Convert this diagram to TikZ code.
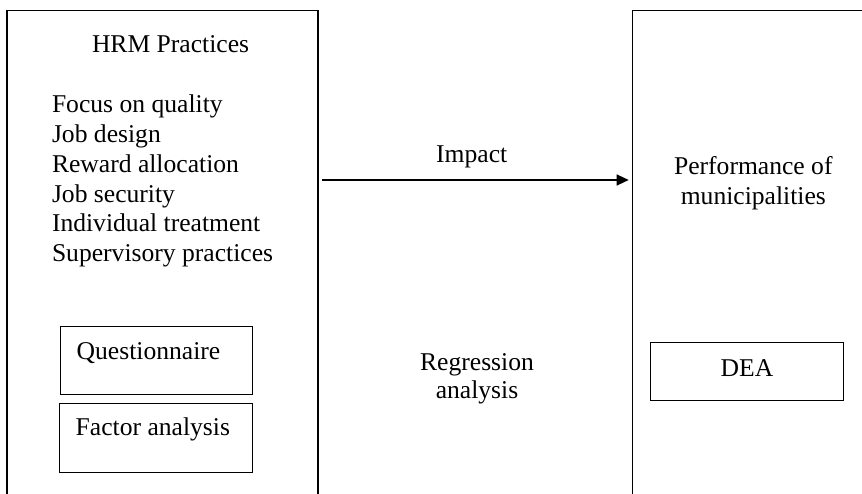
\documentclass[tikz,border=0pt]{standalone}
\usepackage{fontspec}
\setmainfont{Liberation Serif}
\usetikzlibrary{arrows.meta}
\begin{document}
\begin{tikzpicture}[x=1pt,y=-1pt,
  every node/.style={inner sep=0pt,outer sep=0pt,font=\fontsize{25.6}{29.6}\selectfont},
  frame/.style={draw,line width=1.2pt,anchor=north west},
  subbox/.style={draw,line width=1pt,anchor=north west},
  lbl/.style={anchor=base west},
  ctr/.style={anchor=base}]
\clip (0,0) rectangle (862,494);
\fill[white] (0,0) rectangle (862,494);
% main frames
\node[frame,minimum width=311pt,minimum height=510pt] (hrm) at (7,10.7) {};
\node[frame,minimum width=260pt,minimum height=510pt] (perf) at (632.7,10.7) {};
% left texts
\node[lbl] (t0) at (92,53) {HRM Practices};
\node[lbl] (t1) at (52,113) {Focus on quality};
\node[lbl] (t2) at (52,143) {Job design};
\node[lbl] (t3) at (52,173) {Reward allocation};
\node[lbl] (t4) at (52,202.5) {Job security};
\node[lbl] (t5) at (52,232) {Individual treatment};
\node[lbl] (t6) at (52,262) {Supervisory practices};
% sub boxes
\node[subbox,minimum width=192pt,minimum height=68pt] (qbox) at (60,326) {};
\node[lbl] (qtxt) at (76.7,359) {Questionnaire};
\node[subbox,minimum width=193pt,minimum height=69pt] (fbox) at (59,403) {};
\node[lbl] (ftxt) at (75.7,435) {Factor analysis};
% right texts
\node[ctr] (p1) at (753.3,175) {Performance of};
\node[ctr] (p2) at (753.3,205) {municipalities};
\node[subbox,minimum width=193pt,minimum height=58pt] (dbox) at (650,342.7) {};
\node[ctr] (dtxt) at (747,376) {DEA};
% middle
\node[ctr] (imp) at (471.7,162.7) {Impact};
\node[ctr] (r1) at (477,370) {Regression};
\node[ctr] (r2) at (477,398) {analysis};
% arrow
\coordinate (a1) at (322,180);
\coordinate (a2) at (perf.west |- a1);
\draw[line width=1.1pt,-{Triangle[length=12pt,width=11pt]}] (a1) -- ([xshift=-4pt]a2);
\end{tikzpicture}
\end{document}
